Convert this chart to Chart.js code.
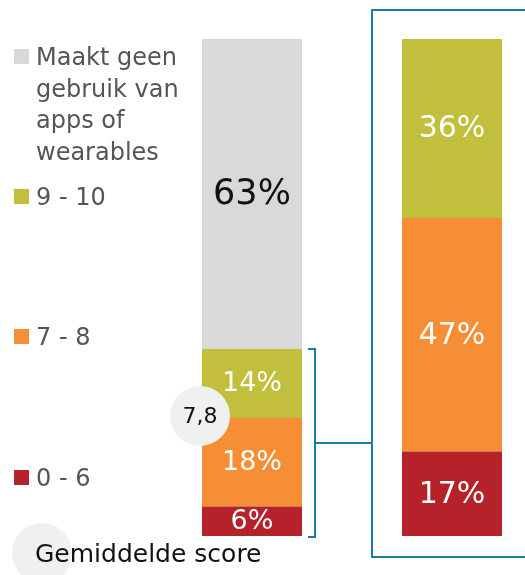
<!DOCTYPE html>
<html>
<head>
<meta charset="utf-8">
<script src="https://cdn.jsdelivr.net/npm/chart.js@4.4.1/dist/chart.umd.min.js"></script>
<style>
  html, body { margin: 0; padding: 0; background: #fff; overflow: hidden; }
  #wrap { position: relative; width: 600px; height: 575px; }
</style>
</head>
<body>
<div id="wrap"><canvas id="c" width="600" height="575"></canvas></div>
<script>
// Bars: all respondents, and the users of apps/wearables only
const categories = ['Alle respondenten', 'Gebruikers'];
// Series, bottom to top in the stack
const seriesNames = ['0 - 6', '7 - 8', '9 - 10', 'Maakt geen gebruik van apps of wearables'];
const allShares = [6, 18, 14, 63];
const userShares = [17, 47, 36, null];
const averageScore = '7,8';
const averageLabel = 'Gemiddelde score';
// Legend text, top to bottom (wrapped lines for the first entry)
const legendLines = [
  ['Maakt geen', 'gebruik van', 'apps of', 'wearables'],
  ['9 - 10'],
  ['7 - 8'],
  ['0 - 6']
];

const colors = ['#b52229', '#f58e35', '#c1bf3b', '#d9d9d9'];
const legendColors = ['#d9d9d9', '#c1bf3b', '#f58e35', '#b52229'];
const teal = '#1580a6';
const labelFont = '"DejaVu Sans", Verdana, sans-serif';

const datasets = [];
seriesNames.forEach((name, i) => {
  datasets.push({
    label: name,
    data: [allShares[i], null],
    backgroundColor: colors[i],
    yAxisID: 'y',
    group: 'all'
  });
});
seriesNames.forEach((name, i) => {
  if (userShares[i] === null) return;
  datasets.push({
    label: name,
    data: [null, userShares[i]],
    backgroundColor: colors[i],
    yAxisID: 'y2',
    group: 'users'
  });
});

const decorations = {
  id: 'decorations',
  afterDatasetsDraw(chart) {
    const ctx = chart.ctx;
    const area = chart.chartArea;
    ctx.save();

    // value labels in the middle of each segment
    chart.data.datasets.forEach((ds, di) => {
      const meta = chart.getDatasetMeta(di);
      meta.data.forEach((el, idx) => {
        const v = ds.data[idx];
        if (v === null || v === undefined) return;
        const p = el.getProps(['x', 'y', 'base'], true);
        const cy = (p.y + p.base) / 2;
        const isGrey = ds.label === seriesNames[3];
        let size = idx === 0 ? 27 : 30;
        if (isGrey) size = 35;
        ctx.font = size + 'px ' + labelFont;
        ctx.fillStyle = isGrey ? '#111' : '#fff';
        ctx.textAlign = 'center';
        ctx.textBaseline = 'middle';
        ctx.fillText(v + '%', p.x, cy + 1);
      });
    });

    // bracket around the scored part of the first bar
    const leftMetas = chart.data.datasets
      .map((ds, i) => ({ ds, meta: chart.getDatasetMeta(i) }))
      .filter(o => o.ds.group === 'all');
    const bottomEl = leftMetas[0].meta.data[0].getProps(['x', 'y', 'base', 'width'], true);
    const topEl = leftMetas[2].meta.data[0].getProps(['x', 'y', 'base', 'width'], true);
    const bx = Math.round(bottomEl.x + bottomEl.width / 2 + 13);
    const bTop = Math.round(topEl.y);
    const bBot = Math.round(bottomEl.base + 1);
    const bMid = Math.round((bTop + bBot) / 2);

    const rightEl = chart.getDatasetMeta(4).data[1].getProps(['x', 'y', 'base', 'width'], true);
    const boxLeft = Math.round(rightEl.x - rightEl.width / 2 - 30);

    ctx.strokeStyle = teal;
    ctx.lineWidth = 2;
    ctx.beginPath();
    ctx.moveTo(bx - 7, bTop);
    ctx.lineTo(bx, bTop);
    ctx.lineTo(bx, bBot);
    ctx.lineTo(bx - 7, bBot);
    ctx.moveTo(bx, bMid);
    ctx.lineTo(boxLeft, bMid);
    ctx.stroke();

    // frame around the users bar
    ctx.beginPath();
    ctx.rect(boxLeft, Math.round(area.top - 29), 300, Math.round(area.bottom - area.top + 50));
    ctx.stroke();

    // average score bubble
    const avgX = bottomEl.x - bottomEl.width / 2 - 2;
    const avgY = topEl.base - 2;
    ctx.fillStyle = '#f0f0f0';
    ctx.beginPath();
    ctx.arc(avgX, avgY, 30, 0, Math.PI * 2);
    ctx.fill();
    ctx.fillStyle = '#111';
    ctx.font = '22px ' + labelFont;
    ctx.textAlign = 'center';
    ctx.textBaseline = 'middle';
    ctx.fillText(averageScore, avgX, avgY + 1);

    // legend
    ctx.textAlign = 'left';
    ctx.textBaseline = 'alphabetic';
    ctx.font = '24px "DejaVu Sans", Verdana, sans-serif';
    const baselines = [65, 205, 345, 486];
    legendLines.forEach((lines, i) => {
      ctx.fillStyle = legendColors[i];
      ctx.fillRect(14, baselines[i] - 16, 15, 15);
      ctx.fillStyle = '#555';
      lines.forEach((t, li) => ctx.fillText(t, 36, baselines[i] + li * 31.7));
    });

    // legend for the average bubble
    ctx.fillStyle = '#f0f0f0';
    ctx.beginPath();
    ctx.arc(42, 553, 30, 0, Math.PI * 2);
    ctx.fill();
    ctx.fillStyle = '#111';
    ctx.font = '25px ' + labelFont;
    ctx.fillText(averageLabel, 35, 562);

    ctx.restore();
  }
};

new Chart(document.getElementById('c'), {
  type: 'bar',
  data: { labels: categories, datasets },
  options: {
    responsive: false,
    animation: false,
    layout: { padding: { left: 152, right: 48, top: 39, bottom: 39 } },
    categoryPercentage: 1,
    barPercentage: 0.5,
    plugins: { legend: { display: false }, tooltip: { enabled: false } },
    scales: {
      x: { stacked: true, display: false },
      y: { stacked: true, display: false, min: 0, max: 101 },
      y2: { stacked: true, display: false, min: 0, max: 100 }
    }
  },
  plugins: [decorations]
});
</script>
</body>
</html>
